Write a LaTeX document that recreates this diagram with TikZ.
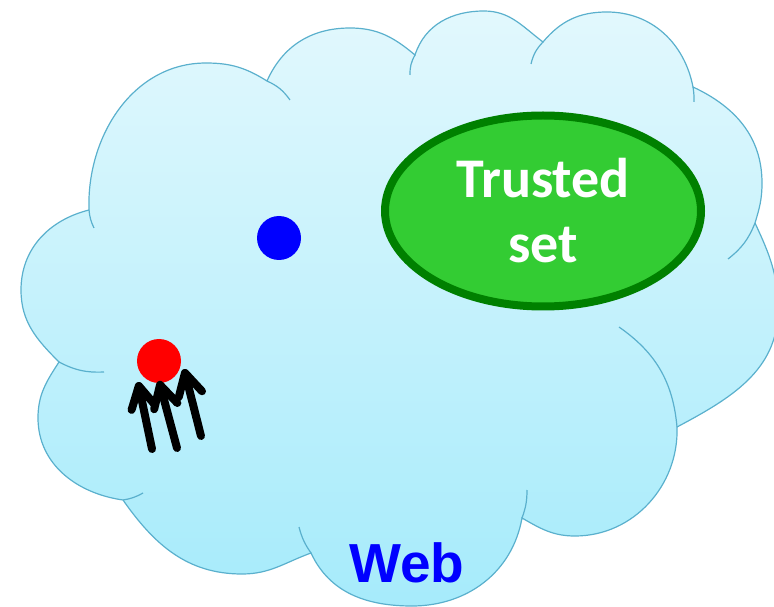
\documentclass[tikz,border=0pt]{standalone}
\usepackage{fontspec}
\newfontfamily\trustfont{Carlito}
\newfontfamily\webfont{Liberation Sans}
\usetikzlibrary{arrows.meta}
\usetikzlibrary{shapes.geometric}
\definecolor{cloudline}{RGB}{90,176,205}
\definecolor{cloudtop}{RGB}{226,248,253}
\definecolor{cloudbot}{RGB}{166,235,251}
\definecolor{trustfill}{RGB}{51,204,51}
\definecolor{trustline}{RGB}{0,128,0}
\tikzset{
 dot/.style={circle, inner sep=0pt, minimum size=44pt},
 seam/.style={cloudline, line width=1.2pt},
 hit/.style={black, line width=8pt, line cap=round, line join=round, -{Straight Barb[length=22pt,width=24pt,line cap=round,line join=round]}}
}

\begin{document}
\begin{tikzpicture}[x=1pt, y=1pt]
\clip (0,0) rectangle (774,606);
\draw[seam, top color=cloudtop, bottom color=cloudbot] (89,396)
 to[out=92,in=180] (206,543) to[out=0,in=148] (267,525)
 to[out=66,in=180] (350,578) to[out=0,in=140] (415,551)
 to[out=72,in=180] (484,595) to[out=0,in=143] (543,564)
 to[out=50,in=180] (607,594) to[out=0,in=101] (693,519)
 to[out=-25,in=90] (762,423) to[out=-90,in=73] (755,383)
 to[out=-65,in=90] (778,296) to[out=-90,in=28] (677,179)
 to[out=-88,in=0] (575,70) to[out=180,in=-30] (522,88)
 to[out=-100,in=0] (412,0) to[out=180,in=-65] (311,53)
 to[out=200,in=0] (242,32) to[out=180,in=-55] (123,106)
 to[out=172,in=-90] (38,188) to[out=90,in=-123] (59,244)
 to[out=135,in=-90] (21,316) to[out=90,in=194] (89,396) -- cycle;
\draw[seam] (267,525) to[bend left=15] (290,506);
\draw[seam] (410,531) to[bend left=15] (415,551);
\draw[seam] (531,542) to[bend left=15] (543,564);
\draw[seam] (693,519) to[bend left=5] (694,504);
\draw[seam] (755,383) to[bend left=15] (728,347);
\draw[seam] (619,279) to[bend left=25] (677,179);
\draw[seam] (527,116) to[bend left=10] (522,88);
\draw[seam] (311,53) to[bend left=10] (299,79);
\draw[seam] (123,106) to[bend right=10] (143,113);
\draw[seam] (59,244) to[bend right=15] (104,234);
\draw[seam] (89,396) to[bend right=10] (94,378);
\node[ellipse, draw=trustline, line width=8pt, fill=trustfill, minimum width=316pt, minimum height=191pt,
 text=white, align=center, font=\trustfont\bfseries\fontsize{56}{65}\selectfont] (trusted) at (543,395) {Trusted\\set};
\node[dot, fill=blue] (good) at (279,368) {};
\node[dot, fill=red] (spam) at (159,245) {};
\node[anchor=base, text=blue, font=\webfont\bfseries\fontsize{55}{60}\selectfont] (web) at (407,24) {Web};
\coordinate (t1) at (152,157);
\coordinate (t2) at (177,158);
\coordinate (t3) at (201,170);
\coordinate (h1) at (138,224);
\coordinate (h2) at (159,225);
\coordinate (h3) at (184,237);
\foreach \i in {1,2,3}
 \draw[hit] (t\i) -- (h\i);
\end{tikzpicture}
\end{document}
